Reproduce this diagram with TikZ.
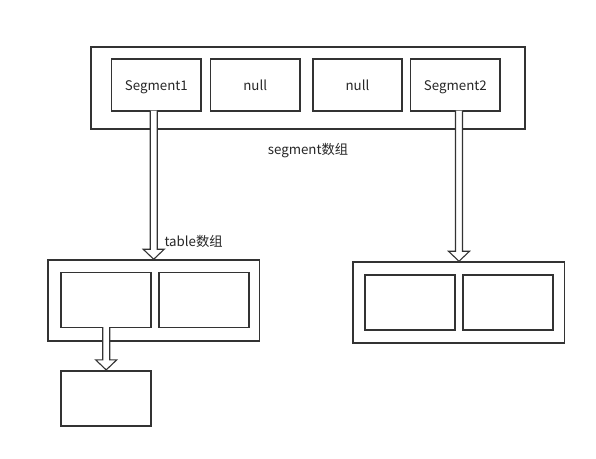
\documentclass[tikz,border=0pt]{standalone}
\usepackage{fontspec}
\setmainfont{Noto Sans CJK SC}
\usepackage{tikz}
\usetikzlibrary{positioning,calc}
\definecolor{linegray}{HTML}{333333}

% hollow block arrow from #1 down to #2
\newcommand{\hollowarr}[2]{%
  \draw[arr] ($(#1)+(-3.5,0)$) -- ($(#2)+(-3.5,-10)$) -- ($(#2)+(-10.5,-10)$) -- (#2)
    -- ($(#2)+(10.5,-10)$) -- ($(#2)+(3.5,-10)$) -- ($(#1)+(3.5,0)$);}

\begin{document}
\begin{tikzpicture}[x=1pt,y=-1pt,font=\fontsize{13.3}{15}\selectfont,
  outer/.style={draw=linegray,line width=1.6pt,minimum width=211.6pt,minimum height=80.7pt,inner sep=0pt},
  cell/.style={draw=linegray,line width=1.6pt,minimum width=89.5pt,minimum height=52pt,inner sep=0pt,
    text=black!85,text height=11pt,text depth=0pt},
  lowcell/.style={cell,minimum width=90.3pt,minimum height=55pt},
  lbl/.style={text=black!85,text height=11pt,text depth=0pt},
  arr/.style={draw=linegray,fill=white,line width=1.1pt,line join=miter}]
  \useasboundingbox (0,0) rectangle (596,458);
  % segment array
  \node[outer,minimum width=434pt,minimum height=81.7pt] (segarr) at (308,88) {};
  \node[cell] (seg1) at (156.4,84.9) {Segment1};
  \node[cell] (null1) at (255.2,84.9) {null};
  \node[cell] (null2) at (357.5,84.9) {null};
  \node[cell] (seg2) at (455.4,84.9) {Segment2};
  \node[lbl] (seglbl) at (308,149) {segment数组};
  % table arrays
  \node[outer] (tblL) at (153.5,300.4) {};
  \node[lowcell] (tblL1) at (105.9,300) {};
  \node[lowcell] (tblL2) at (204,300) {};
  \node[lowcell] (entry) at (105.9,398.2) {};
  \node[outer] (tblR) at (458.5,302.4) {};
  \node[lowcell] (tblR1) at (409.9,302.2) {};
  \node[lowcell] (tblR2) at (508,302.2) {};
  \node[lbl,anchor=west] (tbllbl) at (161,241) {table数组};
  % arrows
  \coordinate (a1) at (153.7,110.5); \coordinate (a2) at (459,110.5); \coordinate (a3) at (106.2,327);
  \hollowarr{a1}{a1 |- tblL.north}
  \hollowarr{a2}{a2 |- tblR.north}
  \hollowarr{a3}{a3 |- entry.north}
\end{tikzpicture}
\end{document}
